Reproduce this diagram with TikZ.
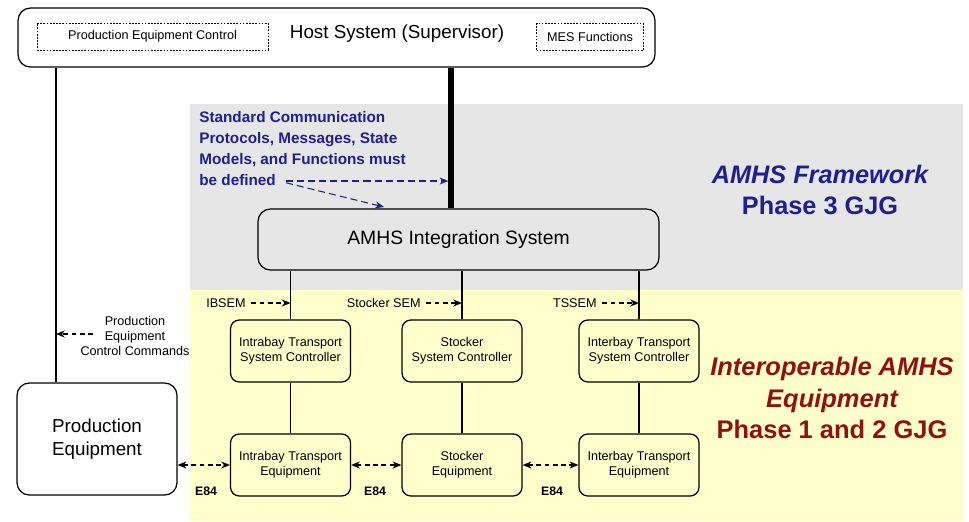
\documentclass[tikz,border=0pt]{standalone}
\usepackage{fontspec}
\setmainfont{Liberation Sans}
\usetikzlibrary{arrows.meta}

\definecolor{framegray}{HTML}{E6E6E6}
\definecolor{equipyellow}{HTML}{FFFFCC}
\definecolor{noteblue}{HTML}{1F1F8F}
\definecolor{phasered}{HTML}{8E1212}

\begin{document}
\begin{tikzpicture}[
    x=0.02cm, y=-0.02cm,
    box/.style={draw, rounded corners=5pt, line width=0.7pt, align=center, inner sep=0pt},
    bigbox/.style={box, rounded corners=7pt, fill=white},
    unit/.style={box, fill=equipyellow, minimum width=2.4cm, minimum height=1.24cm,
                 font=\fontsize{7.2}{8.6}\selectfont},
    func/.style={draw, dash pattern=on 1pt off 0.8pt, line width=0.5pt, fill=white,
                 minimum height=0.54cm, inner sep=0pt, font=\fontsize{7.2}{8.6}\selectfont},
    small/.style={font=\fontsize{7.2}{8.6}\selectfont, inner sep=0pt},
    link/.style={line width=0.7pt},
    sem/.style={-{Stealth[length=5pt,width=4pt]}, dash pattern=on 2.8pt off 1.9pt, line width=0.7pt},
    e84/.style={{Stealth[length=5pt,width=4pt]}-{Stealth[length=5pt,width=4pt]},
                dash pattern=on 2.8pt off 1.9pt, line width=0.7pt},
    note/.style={-{Stealth[length=5pt,width=4pt]}, noteblue, dash pattern=on 4pt off 2.3pt, line width=0.6pt}
]
\useasboundingbox (0,0) rectangle (969,521);

% Phase backgrounds
\fill[framegray] (190,104) rectangle (963,290);
\fill[equipyellow] (190,290) rectangle (963,521);

% Host system
\node[bigbox, minimum width=12.74cm, minimum height=1.18cm] (host) at (336.5,37.5) {};
\node[func, minimum width=4.62cm] (pec) at (152.5,36.5) {Production Equipment Control};
\node[func, minimum width=2.14cm] (mes) at (590,37) {MES Functions};
\node[inner sep=0pt, font=\fontsize{10.7}{12}\selectfont] (hosttitle) at (397,34) {Host System (Supervisor)};

% AMHS integration layer
\node[box, fill=framegray, rounded corners=7pt, minimum width=8.02cm, minimum height=1.22cm,
      font=\fontsize{11}{13}\selectfont] (integ) at (458.5,239.5) {AMHS Integration System};

% Controllers
\node[unit] (ctrlA) at (290.5,351) {Intrabay Transport\\System Controller};
\node[unit] (ctrlB) at (462,351)   {Stocker\\System Controller};
\node[unit] (ctrlC) at (639,351)   {Interbay Transport\\System Controller};

% Equipment
\node[unit] (eqA) at (290.5,465) {Intrabay Transport\\Equipment};
\node[unit] (eqB) at (462,465)   {Stocker\\Equipment};
\node[unit] (eqC) at (639,465)   {Interbay Transport\\Equipment};

\node[bigbox, minimum width=3.2cm, minimum height=2.24cm, align=center,
      font=\fontsize{10.7}{13}\selectfont] (pe) at (97,439) {Production\\Equipment};

% Host links
\coordinate (leftbus) at (56,0);
\coordinate (hostlink) at (451,0);
\draw[link] (leftbus |- host.south) -- (leftbus |- pe.north);
\draw[line width=3.4pt] (hostlink |- host.south) -- (hostlink |- integ.north);

% Integration to controllers to equipment
\foreach \u in {A,B,C} {
  \draw[link] (ctrl\u.north |- integ.south) -- (ctrl\u.north);
  \draw[link] (ctrl\u) -- (eq\u);
}

% SEM interfaces
\node[small, anchor=east] (ibsem) at (246,303) {IBSEM};
\node[small, anchor=east] (stksem) at (421,303) {Stocker SEM};
\node[small, anchor=east] (tssem) at (597,303) {TSSEM};
\draw[sem] ([xshift=3pt]ibsem.east) -- (ibsem.east -| ctrlA.north);
\draw[sem] ([xshift=3pt]stksem.east) -- (stksem.east -| ctrlB.north);
\draw[sem] ([xshift=3pt]tssem.east) -- (tssem.east -| ctrlC.north);

% Control commands to production equipment
\node[small, align=center, font=\fontsize{7.2}{8.3}\selectfont] (pcmd) at (135,336)
     {Production\\Equipment\\Control Commands};
\coordinate (cmdtail) at (93,334);
\draw[sem] (cmdtail) -- (cmdtail -| leftbus);

% E84 handoffs
\draw[e84] (pe.east |- eqA.west) -- (eqA.west);
\draw[e84] (eqA.east) -- (eqB.west);
\draw[e84] (eqB.east) -- (eqC.west);
\node[small, font=\bfseries\fontsize{7}{8}\selectfont] (e84a) at (206,491) {E84};
\node[small, font=\bfseries\fontsize{7}{8}\selectfont] (e84b) at (375,491) {E84};
\node[small, font=\bfseries\fontsize{7}{8}\selectfont] (e84c) at (552,491) {E84};

% Standards note
\node[anchor=north west, align=left, inner sep=0pt, text=noteblue,
      font=\bfseries\fontsize{8.7}{12}\selectfont] (stdnote) at (199,111)
     {Standard Communication\\Protocols, Messages, State\\Models, and Functions must\\be defined};
\coordinate (notetip) at (286,181);
\coordinate (integtip) at (384,207);
\draw[note] (notetip) -- ([xshift=-1.5pt]notetip -| hostlink);
\draw[note] ([yshift=-1pt]notetip) -- (integtip);

% Phase labels
\node[align=center, text=noteblue, inner sep=0pt, font=\bfseries\fontsize{14.4}{17.6}\selectfont]
     (fwlabel) at (820,190) {\itshape AMHS Framework\\Phase 3 GJG};
\node[align=center, text=phasered, inner sep=0pt, font=\bfseries\fontsize{14.5}{18}\selectfont]
     (eqlabel) at (832,398) {\itshape Interoperable AMHS\\\itshape Equipment\\Phase 1 and 2 GJG};

\end{tikzpicture}
\end{document}
